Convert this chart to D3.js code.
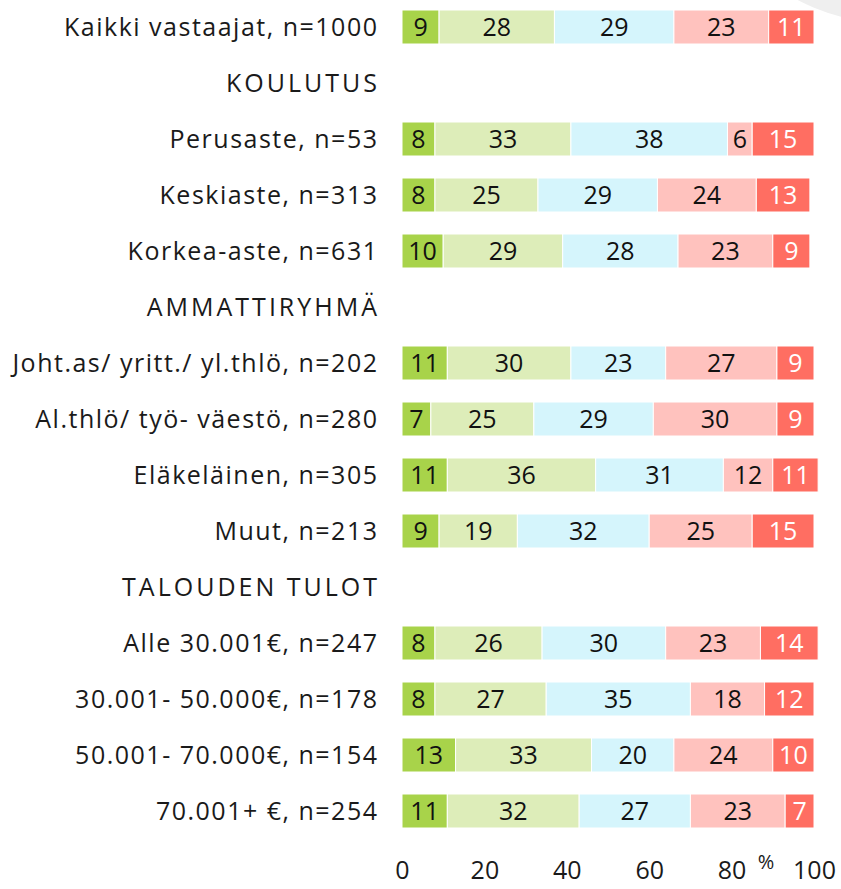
<!DOCTYPE html>
<html>
<head>
<meta charset="utf-8">
<script src="https://cdn.jsdelivr.net/npm/d3@7"></script>
<style>
  body { margin: 0; background: #fff; }
  svg { display: block; font-family: 'Open Sans', sans-serif; }
</style>
</head>
<body>
<svg></svg>
<script>
// rows top to bottom; header rows have no values (null)
let rows = [
    'Kaikki vastaajat, n=1000',
    'KOULUTUS',
    'Perusaste, n=53',
    'Keskiaste, n=313',
    'Korkea-aste, n=631',
    'AMMATTIRYHMÄ',
    'Joht.as/ yritt./ yl.thlö, n=202',
    'Al.thlö/ työ- väestö, n=280',
    'Eläkeläinen, n=305',
    'Muut, n=213',
    'TALOUDEN TULOT',
    'Alle 30.001€, n=247',
    '30.001- 50.000€, n=178',
    '50.001- 70.000€, n=154',
    '70.001+ €, n=254'
]

let s1 = [9, null, 8, 8, 10, null, 11, 7, 11, 9, null, 8, 8, 13, 11]
let s2 = [28, null, 33, 25, 29, null, 30, 25, 36, 19, null, 26, 27, 33, 32]
let s3 = [29, null, 38, 29, 28, null, 23, 29, 31, 32, null, 30, 35, 20, 27]
let s4 = [23, null, 6, 24, 23, null, 27, 30, 12, 25, null, 23, 18, 24, 23]
let s5 = [11, null, 15, 13, 9, null, 9, 9, 11, 15, null, 14, 12, 10, 7]

let xTicks = [0, 20, 40, 60, 80, 100]

let colors = ['#a8d34a', '#ddedb9', '#d5f5fc', '#ffc2be', '#ff6e62']
let textColors = ['#111', '#111', '#111', '#111', '#fff']

let width = 841
let height = 889
let barHeight = 34

let svg = d3.select('svg')
    .attr('width', width)
    .attr('height', height)

// decorative grey circle in the corner
svg.append('circle')
    .attr('cx', 891)
    .attr('cy', -178)
    .attr('r', 201)
    .attr('fill', '#efefef')

let xScale = d3.scaleLinear()
    .domain([0, 100])
    .range([402, 814])

let yScale = d3.scalePoint()
    .domain(d3.range(rows.length))
    .range([27, 811])

let series = [s1, s2, s3, s4, s5]

let table = rows.map((label, i) => {
    let obj = { i: i, label: label }
    series.forEach((s, k) => { obj['s' + k] = s[i] })
    return obj
})

let dataRows = table.filter(d => d.s0 !== null)

let stack = d3.stack().keys(series.map((s, k) => 's' + k))
let stacked = stack(dataRows)

// row labels (headers are the rows without values)
svg.append('g')
    .selectAll('text')
    .data(table)
    .enter()
    .append('text')
    .attr('x', d => d.s0 === null ? 380 : 378.5)
    .attr('y', d => yScale(d.i))
    .attr('dy', '0.36em')
    .attr('text-anchor', 'end')
    .attr('font-size', 25)
    .attr('letter-spacing', d => d.s0 === null ? 3 : 1.5)
    .attr('fill', '#1a1a1a')
    .text(d => d.label)

let layers = svg.selectAll('g.layer')
    .data(stacked)
    .enter()
    .append('g')
    .attr('class', 'layer')

layers.selectAll('rect')
    .data(d => d)
    .enter()
    .append('rect')
    .attr('x', d => xScale(d[0]))
    .attr('width', d => xScale(d[1]) - xScale(d[0]))
    .attr('y', d => yScale(d.data.i) - barHeight / 2)
    .attr('height', barHeight)
    .attr('fill', function () { return colors[d3.select(this.parentNode).datum().index] })
    .attr('stroke', '#fff')
    .attr('stroke-width', 1)

layers.selectAll('text')
    .data(d => d)
    .enter()
    .append('text')
    .attr('x', d => (xScale(d[0]) + xScale(d[1])) / 2)
    .attr('y', d => yScale(d.data.i))
    .attr('dy', '0.36em')
    .attr('text-anchor', 'middle')
    .attr('font-size', 25)
    .attr('fill', function () { return textColors[d3.select(this.parentNode).datum().index] })
    .text(d => d[1] - d[0])

let xAxis = d3.axisBottom(xScale)
    .tickValues(xTicks)
    .tickSize(0)
    .tickPadding(0)

let axisG = svg.append('g')
    .attr('transform', 'translate(0,' + 870 + ')')
    .call(xAxis)

axisG.select('.domain').remove()
axisG.selectAll('text')
    .attr('font-size', 25)
    .attr('font-family', "'Open Sans', sans-serif")
    .attr('fill', '#1a1a1a')
    .attr('y', 0)
    .attr('dy', '0.36em')

svg.append('text')
    .attr('x', 766)
    .attr('y', 862)
    .attr('dy', '0.36em')
    .attr('text-anchor', 'middle')
    .attr('font-size', 20)
    .attr('fill', '#1a1a1a')
    .text('%')
</script>
</body>
</html>
